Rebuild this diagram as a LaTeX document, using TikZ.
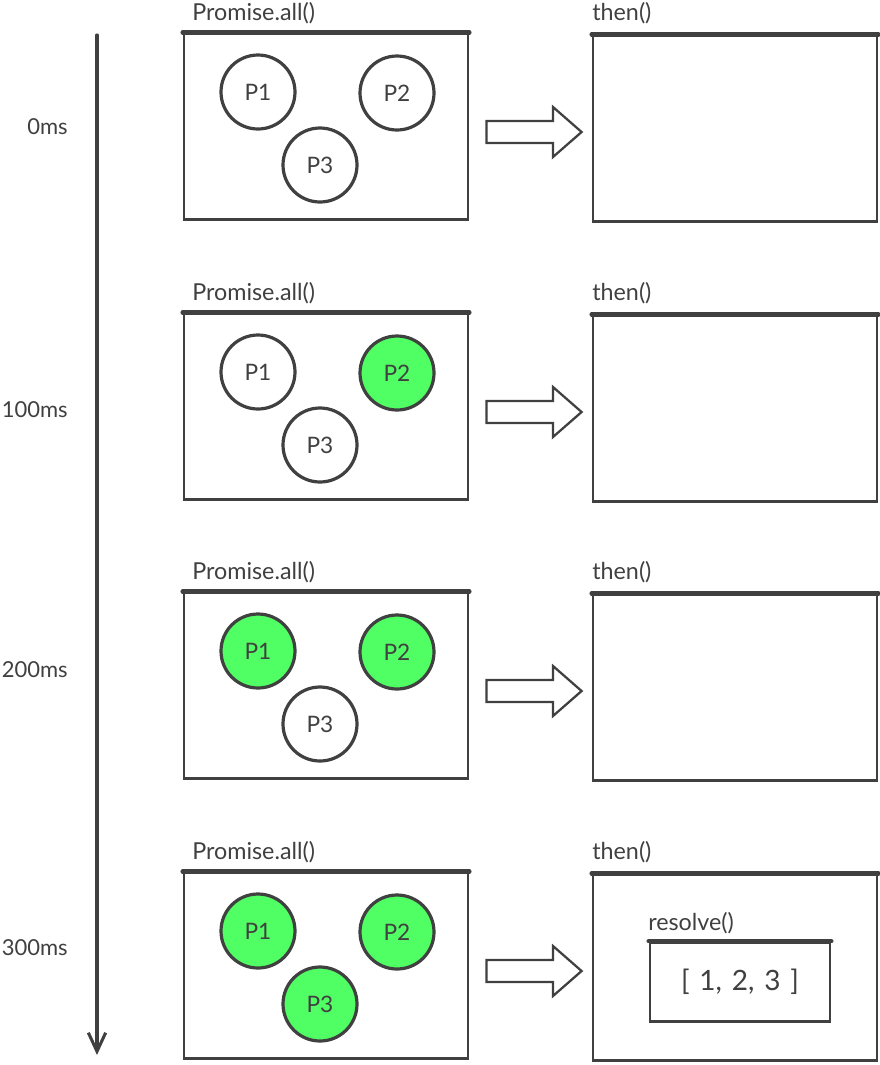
\documentclass[tikz,border=0pt]{standalone}
\usepackage{fontspec}
\setmainfont{Lato}
\usetikzlibrary{arrows.meta}
\definecolor{ink}{RGB}{64,64,64}
\definecolor{done}{RGB}{80,255,100}
\tikzset{
  frame/.style={rectangle, draw=ink, line width=2.1pt, minimum width=213pt, minimum height=139pt, inner sep=0pt},
  heavytop/.style={draw=ink, line width=3.2pt, line cap=round},
  promise/.style={circle, draw=ink, line width=2.4pt, minimum size=55.5pt, inner sep=0pt, text=ink, font=\fontsize{17}{19}\selectfont},
  title/.style={anchor=base west, inner sep=0pt, text=ink, font=\fontsize{17.5}{19}\selectfont},
  timelabel/.style={anchor=east, inner sep=0pt, text=ink, font=\fontsize{16.5}{18}\selectfont},
  blockarrow/.style={draw=ink, line width=1.7pt, line join=miter, fill=white},
  axis/.style={draw=ink, line width=2.3pt, line cap=round, -{Straight Barb[length=14pt,width=13pt,line width=2.3pt]}}
}
\begin{document}
\begin{tikzpicture}[x=0.75pt,y=-0.75pt]
\useasboundingbox (0,0) rectangle (880,1065);
% timeline
\coordinate (tstart) at (97,35);
\coordinate (tend) at (97,1055);
\draw[axis] (tstart) -- (tend);
\node[timelabel] (t0) at (68,127) {0ms};
\node[timelabel] (t1) at (68,410) {100ms};
\node[timelabel] (t2) at (68,670) {200ms};
\node[timelabel] (t3) at (68,948) {300ms};
% rows
\foreach \r/\oy/\fa/\fb/\fc in {0/0/white/white/white, 1/280/white/done/white, 2/559/done/done/white, 3/839/done/done/done}{
  \node[frame] (all\r) at (326,126.5+\oy) {};
  \draw[heavytop] (all\r.north west) -- (all\r.north east);
  \node[title] (allt\r) at (192,20+\oy) {Promise.all()};
  \node[promise, fill=\fa] (p1r\r) at (258,92+\oy) {P1};
  \node[promise, fill=\fb] (p2r\r) at (397,93+\oy) {P2};
  \node[promise, fill=\fc] (p3r\r) at (320,165+\oy) {P3};
  \node[frame] (then\r) at (735,128.5+\oy) {};
  \draw[heavytop] (then\r.north west) -- (then\r.north east);
  \node[title] (thent\r) at (592,20+\oy) {then()};
  \draw[blockarrow] ([xshift=12.75pt]all\r.east |- 0,121+\oy) -- (553,121+\oy) -- (553,107+\oy)
     -- ([xshift=-7.5pt]then\r.west |- 0,132+\oy) -- (553,157+\oy) -- (553,143+\oy)
     -- ([xshift=12.75pt]all\r.east |- 0,143+\oy) -- cycle;
}
% resolve box
\node[rectangle, draw=ink, line width=2.1pt, minimum width=135pt, minimum height=59pt, inner sep=0pt,
      text=ink, font=\fontsize{21}{23}\selectfont] (res) at (740,982)
      {[\hspace{0.35em}1,\hspace{0.35em}2,\hspace{0.35em}3\hspace{0.35em}]};
\draw[heavytop] (res.north west) -- (res.north east);
\node[title] (rest) at (648,930) {resolve()};
\end{tikzpicture}
\end{document}
